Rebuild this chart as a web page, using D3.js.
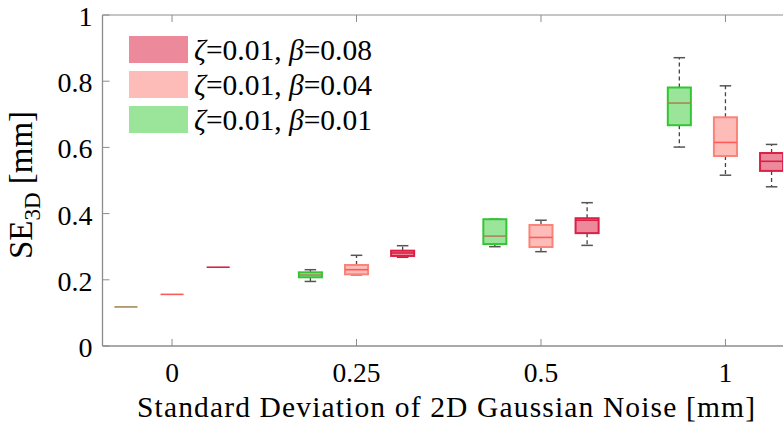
<!DOCTYPE html>
<html>
<head>
<meta charset="utf-8">
<script src="https://cdn.jsdelivr.net/npm/d3@7"></script>
<style>
  body { margin: 0; background: #fff; }
  text { font-family: "Liberation Serif", "Times New Roman", serif; fill: #000; }
</style>
</head>
<body>
<svg id="chart" width="783" height="429"></svg>
<script>
// noise levels on the x axis
const groups = ["0", "0.25", "0.5", "1"];
const yTicks = [0, 0.2, 0.4, 0.6, 0.8, 1];

// box stats per group: [whiskerLow, q1, median, q3, whiskerHigh]
const beta001 = [
  [0.118, 0.118, 0.118, 0.118, 0.118],
  [0.195, 0.2075, 0.2145, 0.2226, 0.2305],
  [0.300, 0.308, 0.332, 0.383, 0.383],
  [0.601, 0.667, 0.734, 0.781, 0.871]
];
const beta004 = [
  [0.156, 0.156, 0.156, 0.156, 0.156],
  [0.215, 0.2166, 0.2305, 0.2447, 0.274],
  [0.285, 0.299, 0.328, 0.3656, 0.380],
  [0.516, 0.574, 0.615, 0.691, 0.786]
];
const beta008 = [
  [0.238, 0.238, 0.238, 0.238, 0.238],
  [0.268, 0.272, 0.281, 0.288, 0.303],
  [0.304, 0.341, 0.380, 0.386, 0.433],
  [0.481, 0.529, 0.558, 0.583, 0.609]
];

const series = [
  {beta: "0.01", stats: beta001, fill: "#9be59b", stroke: "#33c633", med: "#a8875a"},
  {beta: "0.04", stats: beta004, fill: "#fdbcb8", stroke: "#f9857a", med: "#ff5a5a"},
  {beta: "0.08", stats: beta008, fill: "#ec8a9c", stroke: "#dc1f45", med: "#dc1f45"}
];

const svg = d3.select("#chart");
const pl = 102.5, pr = 795, pt = 15, pb = 346;

let x = d3.scaleLinear().domain([-0.377, 3.377]).range([pl, pr]);
let y = d3.scaleLinear().domain([0, 1]).range([pb, pt]);
const off = 0.25, bw = 0.125;

// frame
svg.append("line").attr("x1", pl).attr("x2", pr).attr("y1", pt).attr("y2", pt)
  .attr("stroke", "#8c8c8c").attr("stroke-width", 1);
svg.append("line").attr("x1", pl).attr("x2", pr).attr("y1", pb).attr("y2", pb)
  .attr("stroke", "#8c8c8c").attr("stroke-width", 1.3);
svg.append("line").attr("x1", pl).attr("x2", pl).attr("y1", pt).attr("y2", pb)
  .attr("stroke", "#8c8c8c").attr("stroke-width", 1.3);

// y ticks
svg.selectAll(".yt").data(yTicks).join("line").attr("class", "yt")
  .attr("x1", pl).attr("x2", pl + 7).attr("y1", d => y(d)).attr("y2", d => y(d))
  .attr("stroke", "#8c8c8c");
svg.selectAll(".yl").data(yTicks).join("text").attr("class", "yl")
  .attr("x", pl - 10).attr("y", d => y(d) + 11)
  .attr("text-anchor", "end").attr("font-size", 28)
  .text(d => d);

// x ticks, bottom and top
svg.selectAll(".xt").data(groups).join("line").attr("class", "xt")
  .attr("x1", (d, i) => x(i)).attr("x2", (d, i) => x(i))
  .attr("y1", pb).attr("y2", pb - 7).attr("stroke", "#8c8c8c");
svg.selectAll(".xtt").data(groups).join("line").attr("class", "xtt")
  .attr("x1", (d, i) => x(i)).attr("x2", (d, i) => x(i))
  .attr("y1", pt).attr("y2", pt + 7).attr("stroke", "#8c8c8c");
svg.selectAll(".xl").data(groups).join("text").attr("class", "xl")
  .attr("x", (d, i) => x(i)).attr("y", 382)
  .attr("text-anchor", "middle").attr("font-size", 27.5)
  .text(d => d);

// axis titles
svg.append("text").attr("x", 137).attr("y", 417)
  .attr("font-size", 29.5).attr("textLength", 618).attr("lengthAdjust", "spacing")
  .text("Standard Deviation of 2D Gaussian Noise [mm]");
let yt = svg.append("text").attr("transform", "translate(32,185) rotate(-90)")
  .attr("text-anchor", "middle").attr("font-size", 33);
yt.append("tspan").text("SE");
yt.append("tspan").attr("font-size", 23).attr("dy", 8).text("3D");
yt.append("tspan").attr("dy", -8).text(" [mm]");

// boxes
series.forEach((s, si) => {
  let g = svg.append("g");
  let rows = s.stats.map((st, gi) => ({st: st, cx: x(gi + (si - 1) * off)}));
  let half = (x(bw) - x(0)) / 2;
  let cap = half / 2;

  // whiskers
  g.selectAll(".wu").data(rows).join("line").attr("class", "wu")
    .attr("x1", d => d.cx).attr("x2", d => d.cx)
    .attr("y1", d => y(d.st[3])).attr("y2", d => y(d.st[4]))
    .attr("stroke", "#444").attr("stroke-width", 1.3).attr("stroke-dasharray", "4,3");
  g.selectAll(".wl").data(rows).join("line").attr("class", "wl")
    .attr("x1", d => d.cx).attr("x2", d => d.cx)
    .attr("y1", d => y(d.st[1])).attr("y2", d => y(d.st[0]))
    .attr("stroke", "#444").attr("stroke-width", 1.3).attr("stroke-dasharray", "4,3");
  [0, 4].forEach(k => {
    g.selectAll(".c" + k).data(rows.filter(d => d.st[4] > d.st[0])).join("line")
      .attr("class", "c" + k)
      .attr("x1", d => d.cx - cap).attr("x2", d => d.cx + cap)
      .attr("y1", d => y(d.st[k])).attr("y2", d => y(d.st[k]))
      .attr("stroke", "#555").attr("stroke-width", 1.5);
  });

  // box body
  g.selectAll("rect").data(rows).join("rect")
    .attr("x", d => d.cx - half).attr("width", half * 2)
    .attr("y", d => y(d.st[3])).attr("height", d => y(d.st[1]) - y(d.st[3]))
    .attr("fill", s.fill).attr("stroke", s.stroke).attr("stroke-width", 2);

  // median
  g.selectAll(".md").data(rows).join("line").attr("class", "md")
    .attr("x1", d => d.cx - half).attr("x2", d => d.cx + half)
    .attr("y1", d => y(d.st[2])).attr("y2", d => y(d.st[2]))
    .attr("stroke", s.med).attr("stroke-width", 1.6);
});

// legend, top to bottom: 0.08, 0.04, 0.01
let leg = series.slice().reverse();
let lg = svg.append("g");
lg.selectAll("rect").data(leg).join("rect")
  .attr("x", 129).attr("y", (d, i) => 36 + i * 35).attr("width", 59).attr("height", 27)
  .attr("fill", d => d.fill);
let lt = lg.selectAll("text").data(leg).join("text")
  .attr("x", 194).attr("y", (d, i) => 60 + i * 35)
  .attr("font-size", 29.5);
lt.append("tspan").attr("font-style", "italic").text("ζ");
lt.append("tspan").text("=0.01, ");
lt.append("tspan").attr("font-style", "italic").text("β");
lt.append("tspan").text(d => "=" + d.beta);
</script>
</body>
</html>
